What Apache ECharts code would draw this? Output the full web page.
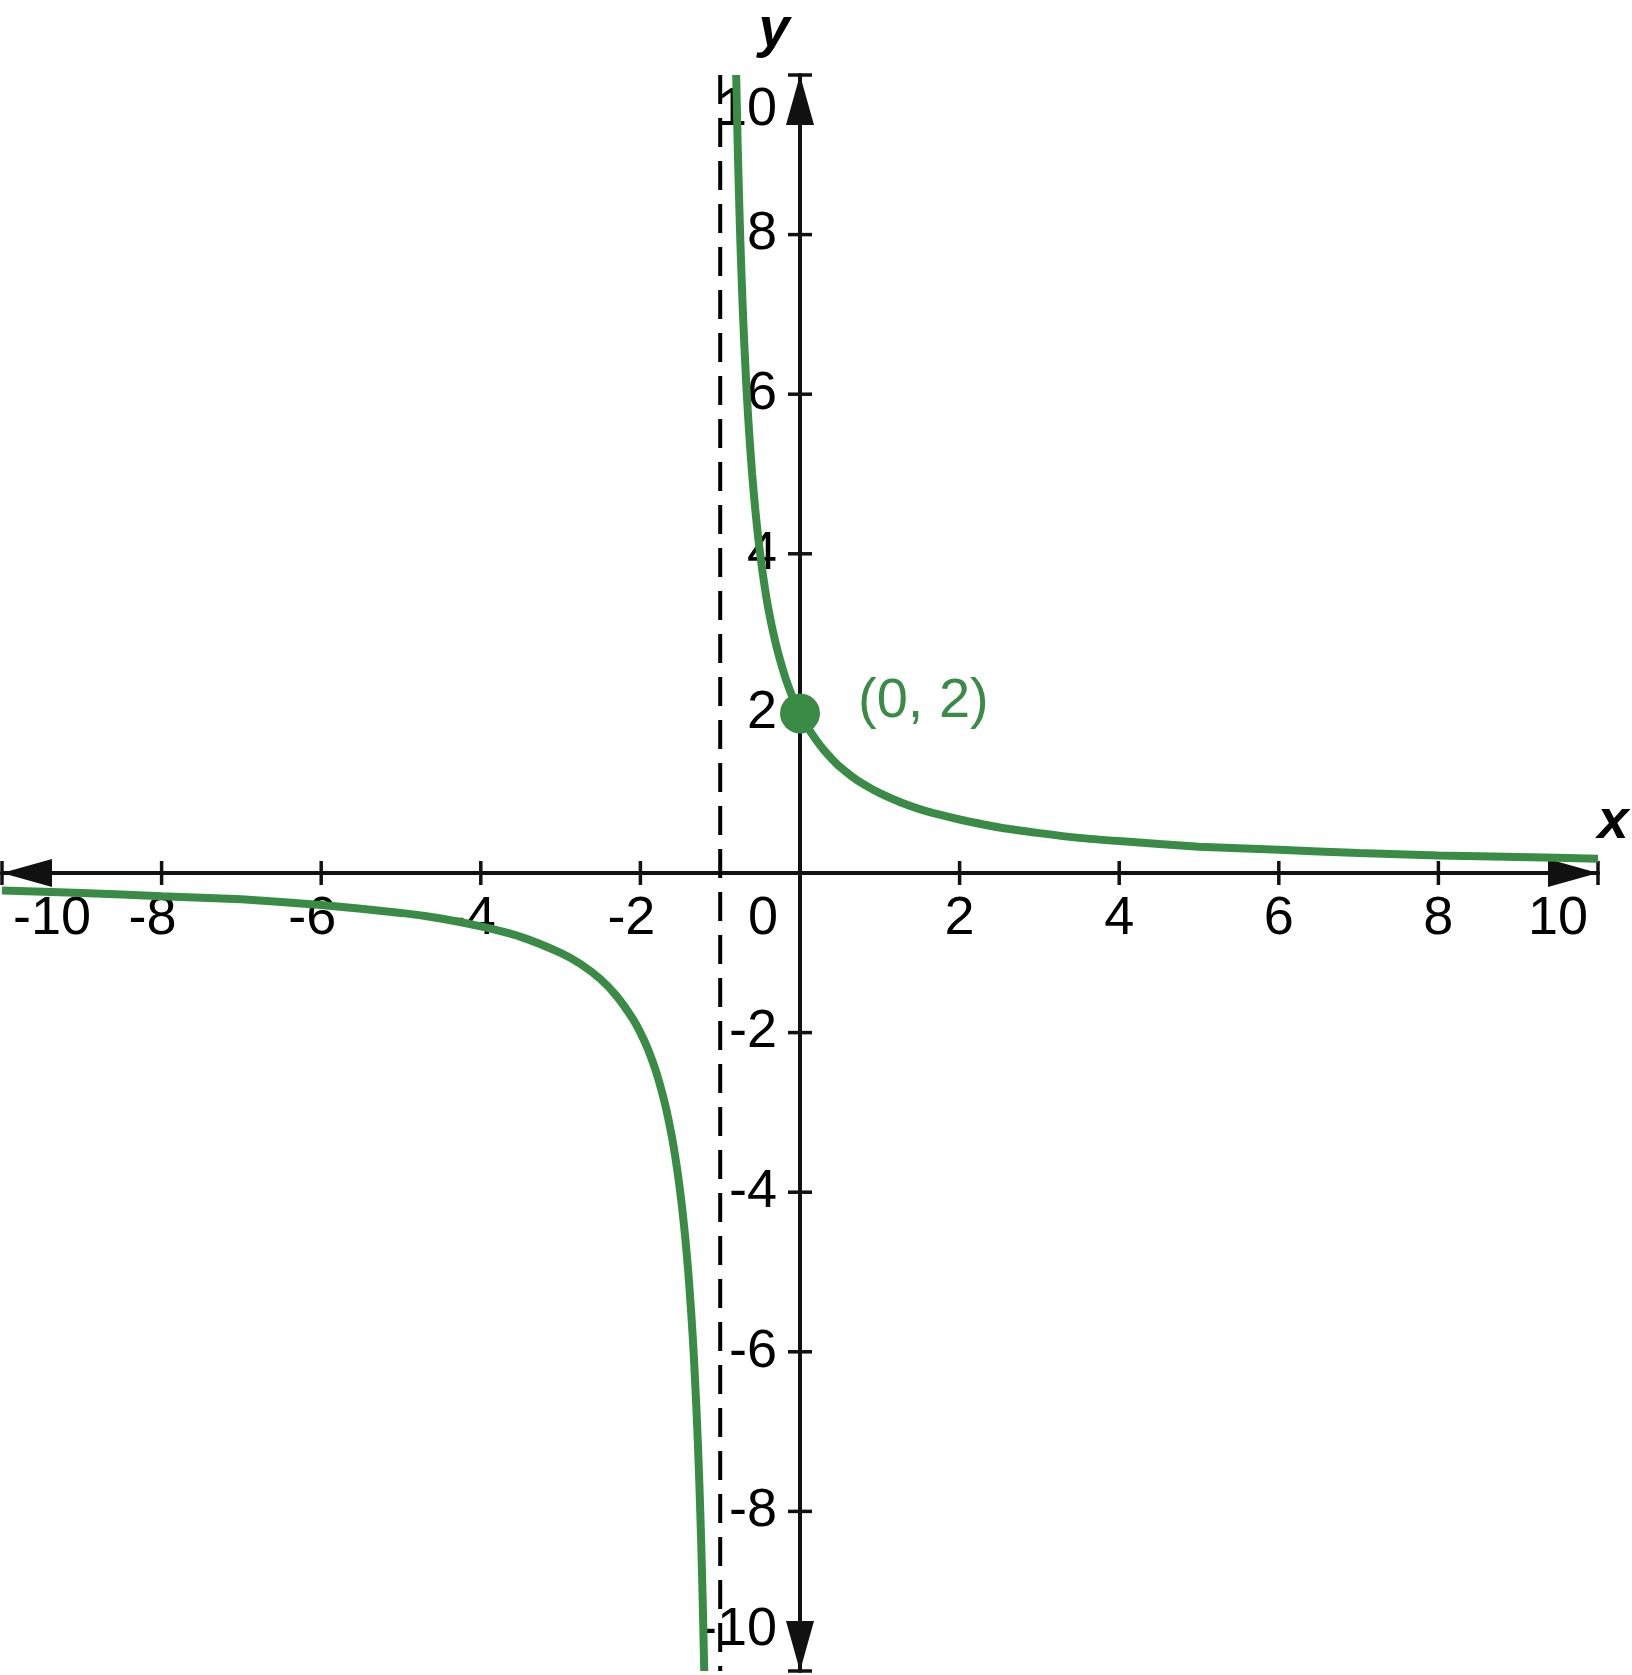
<!DOCTYPE html>
<html>
<head>
<meta charset="utf-8">
<script src="https://cdn.jsdelivr.net/npm/echarts@6/dist/echarts.min.js"></script>
<style>html,body{margin:0;padding:0;background:#fff}#c{width:1632px;height:1675px}</style>
</head>
<body>
<div id="c"></div>
<script>
// ---- data ----
const xTicks = [-10, -8, -6, -4, -2, 0, 2, 4, 6, 8, 10];
const yTicks = [-10, -8, -6, -4, -2, 0, 2, 4, 6, 8, 10];
const xTickLabels = ['-10', '-8', '-6', '-4', '-2', '0', '2', '4', '6', '8', '10'];
const yTickLabels = ['-10', '-8', '-6', '-4', '-2', '', '2', '4', '6', '8', '10'];
const axisNames = ['x', 'y'];

// right branch of the curve
const rightX = [-0.8, -0.78, -0.76, -0.74, -0.72, -0.7, -0.67, -0.64, -0.6, -0.56, -0.52, -0.48, -0.44, -0.4, -0.35, -0.3, -0.25, -0.2, -0.15, -0.1, -0.05, 0, 0.1, 0.2, 0.3, 0.4, 0.5, 0.65, 0.8, 1, 1.25, 1.5, 1.75, 2, 2.5, 3, 3.5, 4, 5, 6, 7, 8, 9, 10];
const rightY = [10, 9.09, 8.33, 7.69, 7.14, 6.67, 6.06, 5.56, 5.0, 4.55, 4.17, 3.85, 3.57, 3.33, 3.08, 2.86, 2.67, 2.5, 2.35, 2.22, 2.11, 2, 1.82, 1.67, 1.54, 1.43, 1.33, 1.21, 1.11, 1, 0.89, 0.8, 0.73, 0.67, 0.57, 0.5, 0.44, 0.4, 0.33, 0.29, 0.25, 0.22, 0.2, 0.18];

// left branch of the curve
const leftX = [-10, -9, -8, -7, -6, -5, -4.5, -4, -3.5, -3, -2.75, -2.5, -2.3, -2.1, -2, -1.9, -1.8, -1.7, -1.64, -1.58, -1.52, -1.48, -1.44, -1.4, -1.36, -1.33, -1.3, -1.28, -1.26, -1.24, -1.22, -1.2];
const leftY = [-0.22, -0.25, -0.29, -0.33, -0.4, -0.5, -0.57, -0.67, -0.8, -1, -1.14, -1.33, -1.54, -1.82, -2, -2.22, -2.5, -2.86, -3.13, -3.45, -3.85, -4.17, -4.55, -5, -5.56, -6.06, -6.67, -7.14, -7.69, -8.33, -9.09, -10];

// vertical asymptote
const asymptoteX = [-1, -1];
const asymptoteY = [10, -10];

// highlighted point
const pointX = [0];
const pointY = [2];
const pointLabels = ['(0, 2)'];

// ---- styles ----
const GREEN = '#3a8b46';
const INK = '#111111';
const FONT = '"Liberation Sans", Arial, Helvetica, sans-serif';
const CLEAR = 'rgba(0,0,0,0)';

const zip = (xs, ys) => xs.map((x, i) => [x, ys[i]]);
const X_MIN = xTicks[0], X_MAX = xTicks[xTicks.length - 1];
const Y_MIN = yTicks[0], Y_MAX = yTicks[yTicks.length - 1];

// tick label items (positions come from the axis scale; only text offsets here)
const xLabelItems = xTicks.map((v, i) => {
  let label = { align: 'right', offset: [15, 46] };
  if (v === X_MIN) label = { align: 'left', offset: [11, 46] };
  else if (v === X_MAX) label = { align: 'right', offset: [-10, 46] };
  else if (v === 0) label = { align: 'right', offset: [-22, 46] };
  return { value: [v, 0], name: xTickLabels[i], label: label };
}).filter(d => d.name !== '');

const yLabelItems = yTicks.map((v, i) => {
  let label = { offset: [-23, 0] };
  if (v === Y_MAX) label = { offset: [-23, 35] };
  else if (v === Y_MIN) label = { offset: [-23, -41] };
  return { value: [0, v], name: yTickLabels[i], label: label };
}).filter(d => d.name !== '');

const nameItems = [
  { value: [X_MAX, 0], name: axisNames[0], label: { offset: [15, -50] } },
  { value: [0, Y_MAX], name: axisNames[1], label: { offset: [-26, -44] } }
];

const chart = echarts.init(document.getElementById('c'), null, { renderer: 'canvas' });

const axisCommon = {
  type: 'value', interval: 2,
  axisLine: {
    show: true, onZero: true,
    lineStyle: { color: INK, width: 4 },
    symbol: ['triangle', 'triangle'],
    symbolSize: [28, 50],
    symbolOffset: [25, -25]
  },
  axisTick: { show: false },
  axisLabel: { show: false },
  splitLine: { show: false }
};

const labelText = {
  show: true, position: 'inside', verticalAlign: 'middle',
  fontSize: 54, fontFamily: FONT, color: '#000',
  formatter: p => p.name
};

chart.setOption({
  animation: false,
  backgroundColor: '#ffffff',
  grid: { left: 2, right: 34, top: 75, bottom: 4, containLabel: false, outerBoundsMode: 'none' },
  xAxis: Object.assign({}, axisCommon, { min: X_MIN, max: X_MAX }),
  yAxis: Object.assign({}, axisCommon, { min: Y_MIN, max: Y_MAX }),
  series: [
    {
      name: 'xTickLabels', type: 'scatter', clip: false, silent: true, z: 1,
      symbolSize: 1, itemStyle: { color: CLEAR, opacity: 1 },
      label: Object.assign({}, labelText, { align: 'right' }),
      data: xLabelItems
    },
    {
      name: 'yTickLabels', type: 'scatter', clip: false, silent: true, z: 1,
      symbolSize: 1, itemStyle: { color: CLEAR, opacity: 1 },
      label: Object.assign({}, labelText, { align: 'right' }),
      data: yLabelItems
    },
    {
      name: 'axisNames', type: 'scatter', clip: false, silent: true, z: 1,
      symbolSize: 1, itemStyle: { color: CLEAR, opacity: 1 },
      label: Object.assign({}, labelText, { align: 'center', fontSize: 56, fontStyle: 'italic', fontWeight: 'bold' }),
      data: nameItems
    },
    {
      name: 'xTickMarks', type: 'scatter', clip: false, silent: true, z: 1,
      symbol: 'rect', symbolSize: [3.5, 24],
      itemStyle: { color: INK, opacity: 1 },
      data: xTicks.filter(v => v !== 0).map(v => [v, 0])
    },
    {
      name: 'yTickMarks', type: 'scatter', clip: false, silent: true, z: 1,
      symbol: 'rect', symbolSize: [24, 3.5],
      itemStyle: { color: INK, opacity: 1 },
      data: yTicks.filter(v => v !== 0).map(v => [0, v])
    },
    {
      name: 'asymptote', type: 'line', silent: true, z: 2,
      symbol: 'none', showSymbol: false,
      lineStyle: { color: '#000', width: 4, type: [29, 14] },
      data: zip(asymptoteX, asymptoteY)
    },
    {
      name: 'rightBranch', type: 'line', silent: true, z: 3,
      symbol: 'none', showSymbol: false, smooth: 0.2,
      lineStyle: { color: GREEN, width: 8 },
      data: zip(rightX, rightY)
    },
    {
      name: 'leftBranch', type: 'line', silent: true, z: 3,
      symbol: 'none', showSymbol: false, smooth: 0.2,
      lineStyle: { color: GREEN, width: 8 },
      data: zip(leftX, leftY)
    },
    {
      name: 'point', type: 'scatter', silent: true, z: 4,
      symbol: 'circle', symbolSize: 40,
      itemStyle: { color: GREEN, opacity: 1 },
      label: {
        show: true, position: 'right', distance: 38, offset: [0, -12],
        formatter: p => pointLabels[p.dataIndex],
        fontSize: 56, fontFamily: FONT, color: GREEN
      },
      data: zip(pointX, pointY)
    }
  ]
});
</script>
</body>
</html>
